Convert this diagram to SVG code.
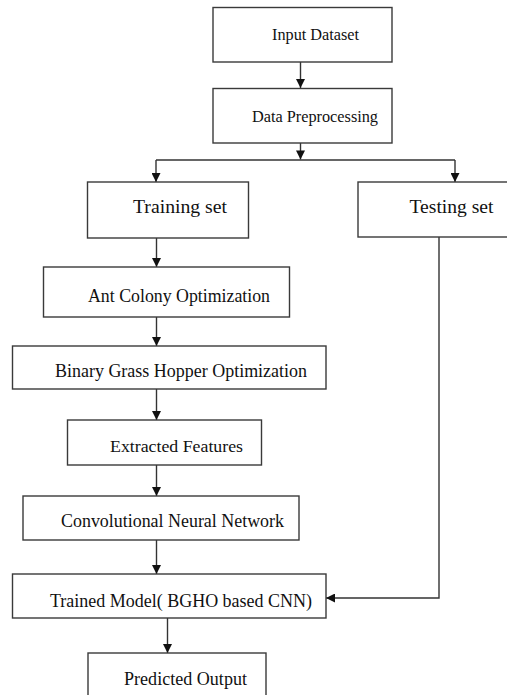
<svg xmlns="http://www.w3.org/2000/svg" width="507" height="695" viewBox="0 0 507 695">
<style>
.box{fill:#fff;stroke:#3a3a3a;stroke-width:1.4}
.lbl{font-family:'Liberation Serif',serif;fill:#111}
.ln{fill:none;stroke:#333;stroke-width:1.4}
</style>
<defs>
<marker id="ah" viewBox="0 0 10 10" refX="10" refY="5" markerWidth="10" markerHeight="9" markerUnits="userSpaceOnUse" orient="auto">
<path d="M0,0 L10,5 L0,10 z" fill="#111"/>
</marker>
</defs>
<rect width="507" height="695" fill="#fff"/>
<g id="connectors">
<path class="ln" d="M300.5,62 V88" marker-end="url(#ah)"/>
<path class="ln" d="M300.5,143 V159.5" marker-end="url(#ah)"/>
<path class="ln" d="M156,160 H455"/>
<path class="ln" d="M156,160 V182" marker-end="url(#ah)"/>
<path class="ln" d="M455,160 V182" marker-end="url(#ah)"/>
<path class="ln" d="M156.5,238 V267" marker-end="url(#ah)"/>
<path class="ln" d="M156.5,317 V346" marker-end="url(#ah)"/>
<path class="ln" d="M156.5,389 V420" marker-end="url(#ah)"/>
<path class="ln" d="M156.5,465 V496" marker-end="url(#ah)"/>
<path class="ln" d="M156.5,540 V574" marker-end="url(#ah)"/>
<path class="ln" d="M439,237 V598 H326" marker-end="url(#ah)"/>
<path class="ln" d="M167.5,618 V653" marker-end="url(#ah)"/>
</g>
<g id="input-dataset">
<rect class="box" x="213" y="7.5" width="179" height="54.5"/>
<text class="lbl" x="272" y="40" font-size="16" textLength="87" lengthAdjust="spacingAndGlyphs">Input Dataset</text>
</g>
<g id="data-preprocessing">
<rect class="box" x="213" y="88.5" width="179" height="54.5"/>
<text class="lbl" x="252" y="122" font-size="16" textLength="126" lengthAdjust="spacingAndGlyphs">Data Preprocessing</text>
</g>
<g id="training-set">
<rect class="box" x="87.5" y="182" width="161" height="56"/>
<text class="lbl" x="133" y="213" font-size="19.5" textLength="94" lengthAdjust="spacingAndGlyphs">Training set</text>
</g>
<g id="testing-set">
<rect class="box" x="358" y="182" width="160" height="55"/>
<text class="lbl" x="409.5" y="213" font-size="19.5" textLength="84" lengthAdjust="spacingAndGlyphs">Testing set</text>
</g>
<g id="ant-colony">
<rect class="box" x="43.5" y="267" width="246" height="50"/>
<text class="lbl" x="88" y="301.5" font-size="18" textLength="182" lengthAdjust="spacingAndGlyphs">Ant Colony Optimization</text>
</g>
<g id="binary-grasshopper">
<rect class="box" x="12.5" y="346" width="313.5" height="43"/>
<text class="lbl" x="55" y="377" font-size="18" textLength="252" lengthAdjust="spacingAndGlyphs">Binary Grass Hopper Optimization</text>
</g>
<g id="extracted-features">
<rect class="box" x="67.5" y="420" width="194" height="45"/>
<text class="lbl" x="110" y="451.5" font-size="17" textLength="133" lengthAdjust="spacingAndGlyphs">Extracted Features</text>
</g>
<g id="cnn">
<rect class="box" x="23" y="496" width="276" height="44"/>
<text class="lbl" x="61" y="526.5" font-size="18" textLength="223" lengthAdjust="spacingAndGlyphs">Convolutional Neural Network</text>
</g>
<g id="trained-model">
<rect class="box" x="12.5" y="574" width="313.5" height="44"/>
<text class="lbl" x="50" y="607" font-size="18" textLength="262" lengthAdjust="spacingAndGlyphs">Trained Model( BGHO based CNN)</text>
</g>
<g id="predicted-output">
<rect class="box" x="88" y="653" width="178" height="55"/>
<text class="lbl" x="124" y="685" font-size="18" textLength="123" lengthAdjust="spacingAndGlyphs">Predicted Output</text>
</g>
</svg>
